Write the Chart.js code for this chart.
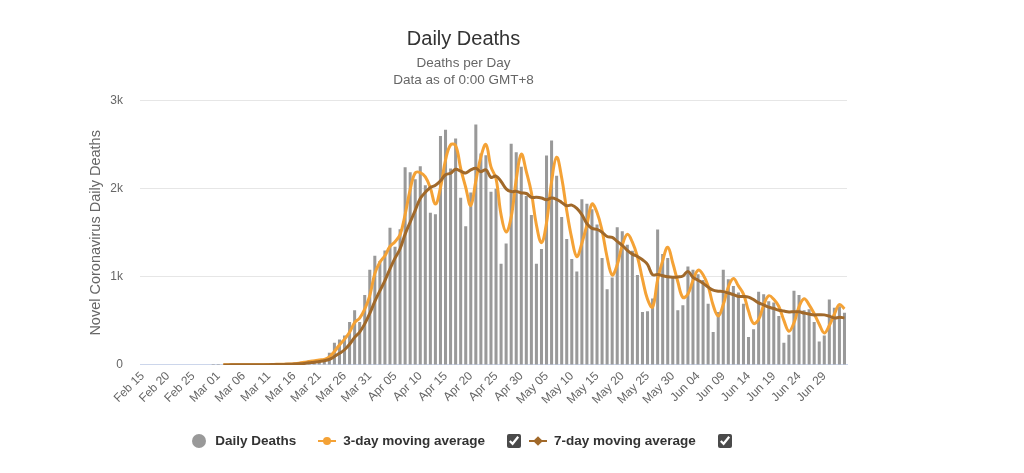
<!DOCTYPE html>
<html>
<head>
<meta charset="utf-8">
<title>Daily Deaths</title>
<script src="https://cdn.jsdelivr.net/npm/chart.js@4.4.1/dist/chart.umd.min.js"></script>
<style>
    html, body { margin: 0; padding: 0; background: #fff; }
    #wrap   { position: relative; width: 930px; height: 473px; }
    #legend {
        position: absolute; left: -10px; top: 433px; width: 930px;
        display: flex; justify-content: center; align-items: center;
        font: bold 13.5px 'Liberation Sans', Arial, sans-serif; color: #333;
    }
    .lg-item  { display: flex; align-items: center; margin-right: 22px; }
    .lg-item:last-child { margin-right: 0; }
    .lg-dot   { width: 14px; height: 14px; border-radius: 50%; margin-right: 9px; }
    .lg-line  { position: relative; width: 18px; height: 2px; margin-right: 7px; }
    .lg-line i { position: absolute; left: 5px; top: -3px; width: 8px; height: 8px; border-radius: 50%; }
    .lg-line i.diamond { border-radius: 0; transform: rotate(45deg) scale(0.85); }
    .lg-check { width: 14px; height: 14px; margin: 0 -14px 0 22px; accent-color: #4a4a4a; }
</style>
</head>
<body>
<div id="wrap">
    <canvas id="deathsChart"></canvas>
    <div id="legend"></div>
</div>
<script>
/* ── Data ────────────────────────────────────────────── */
const DAYS = [
    'Feb 15','Feb 16','Feb 17','Feb 18','Feb 19','Feb 20','Feb 21','Feb 22','Feb 23','Feb 24','Feb 25','Feb 26','Feb 27','Feb 28','Feb 29',
    'Mar 01','Mar 02','Mar 03','Mar 04','Mar 05','Mar 06','Mar 07','Mar 08','Mar 09','Mar 10','Mar 11','Mar 12','Mar 13','Mar 14','Mar 15','Mar 16',
    'Mar 17','Mar 18','Mar 19','Mar 20','Mar 21','Mar 22','Mar 23','Mar 24','Mar 25','Mar 26','Mar 27','Mar 28','Mar 29','Mar 30','Mar 31',
    'Apr 01','Apr 02','Apr 03','Apr 04','Apr 05','Apr 06','Apr 07','Apr 08','Apr 09','Apr 10','Apr 11','Apr 12','Apr 13','Apr 14','Apr 15',
    'Apr 16','Apr 17','Apr 18','Apr 19','Apr 20','Apr 21','Apr 22','Apr 23','Apr 24','Apr 25','Apr 26','Apr 27','Apr 28','Apr 29','Apr 30',
    'May 01','May 02','May 03','May 04','May 05','May 06','May 07','May 08','May 09','May 10','May 11','May 12','May 13','May 14','May 15','May 16',
    'May 17','May 18','May 19','May 20','May 21','May 22','May 23','May 24','May 25','May 26','May 27','May 28','May 29','May 30','May 31',
    'Jun 01','Jun 02','Jun 03','Jun 04','Jun 05','Jun 06','Jun 07','Jun 08','Jun 09','Jun 10','Jun 11','Jun 12','Jun 13','Jun 14','Jun 15',
    'Jun 16','Jun 17','Jun 18','Jun 19','Jun 20','Jun 21','Jun 22','Jun 23','Jun 24','Jun 25','Jun 26','Jun 27','Jun 28','Jun 29','Jun 30',
    'Jul 01','Jul 02','Jul 03'
];

const DAILY_DEATHS = [
    0, 0, 0, 0, 0, 0, 0, 0, 0, 0, 0, 0, 0, 0, 1,
    1, 5, 1, 4, 1, 2, 3, 4, 4, 5, 8, 7, 10, 11, 12, 23,
    28, 38, 55, 53, 67, 70, 140, 252, 290, 336, 489, 622, 489, 794, 1080,
    1240, 1180, 1300, 1557, 1343, 1540, 2245, 2187, 2110, 2256, 2042, 1729, 1710, 2600, 2670,
    2230, 2570, 1900, 1576, 1958, 2729, 2400, 2380, 1966, 2000, 1149, 1378, 2511, 2416, 2252,
    1920, 1702, 1149, 1317, 2378, 2550, 2149, 1679, 1431, 1202, 1061, 1882, 1832, 1767, 1595, 1214,
    859, 992, 1565, 1519, 1366, 1298, 1023, 603, 611, 756, 1538, 1260, 1214, 1000, 622,
    679, 1118, 1080, 1030, 966, 695, 374, 603, 1080, 973, 897, 824, 695, 317, 405,
    832, 802, 725, 710, 557, 252, 344, 844, 794, 622, 634, 489, 267, 336, 744,
    649, 668, 592
];

const AVG_3DAY = [
    null, null, null, null, null, null, null, null, null, null, null, null, null, null, null,
    null, 2, 2, 3, 2, 2, 2, 3, 4, 4, 6, 7, 8, 9, 11, 15,
    21, 30, 40, 49, 58, 63, 92, 154, 227, 293, 372, 482, 533, 635, 788,
    1038, 1167, 1240, 1346, 1400, 1480, 1709, 1991, 2181, 2184, 2136, 2009, 1827, 2013, 2327,
    2500, 2490, 2233, 2015, 1811, 2088, 2362, 2503, 2249, 2115, 1705, 1509, 1679, 2102, 2393,
    2196, 1958, 1590, 1389, 1615, 2082, 2359, 2126, 1753, 1437, 1231, 1382, 1592, 1827, 1731, 1525,
    1223, 1022, 1139, 1359, 1483, 1394, 1229, 975, 746, 657, 968, 1185, 1337, 1158, 945,
    767, 806, 959, 1076, 1025, 897, 678, 557, 686, 885, 983, 898, 805, 612, 472,
    518, 680, 786, 746, 664, 506, 384, 480, 661, 753, 683, 582, 463, 364, 449,
    576, 687, 636
];

const AVG_7DAY = [
    null, null, null, null, null, null, null, null, null, null, null, null, null, null, null,
    null, 1, 1, 2, 2, 2, 2, 3, 3, 3, 4, 5, 6, 7, 8, 11,
    14, 18, 25, 31, 39, 48, 64, 96, 132, 173, 235, 314, 374, 467, 586,
    721, 842, 958, 1091, 1213, 1320, 1486, 1622, 1755, 1891, 1960, 2016, 2040, 2091, 2160,
    2177, 2222, 2201, 2179, 2215, 2233, 2195, 2216, 2130, 2144, 2083, 2000, 1969, 1971, 1953,
    1947, 1904, 1904, 1895, 1876, 1895, 1881, 1846, 1808, 1815, 1779, 1708, 1605, 1551, 1539, 1508,
    1459, 1449, 1403, 1359, 1301, 1259, 1232, 1195, 1141, 1025, 1028, 1013, 1001, 997, 1000,
    1010, 1062, 996, 963, 928, 884, 849, 838, 833, 817, 798, 778, 778, 770, 742,
    706, 682, 657, 641, 621, 612, 603, 605, 604, 589, 578, 568, 571, 569, 555,
    534, 541, 535
];

const Y_TICKS       = [0, 1000, 2000, 3000];
const Y_TICK_LABELS = ['0', '1k', '2k', '3k'];

/* ── Style ───────────────────────────────────────────── */
const FONT   = "'Liberation Sans', Arial, Helvetica, sans-serif";
const GRAY   = '#999999';
const ORANGE = '#F4A236';
const BROWN  = '#A1692A';

Chart.defaults.font.family = FONT;
Chart.defaults.color       = '#666666';

const datasets = [
    {
        type: 'bar',
        label: 'Daily Deaths',
        data: DAILY_DEATHS,
        backgroundColor: GRAY,
        barPercentage: 0.6,
        categoryPercentage: 1.0,
        order: 3,
        legendSymbol: 'dot',
    },
    {
        type: 'line',
        label: '3-day moving average',
        data: AVG_3DAY,
        borderColor: ORANGE,
        backgroundColor: ORANGE,
        borderWidth: 3,
        pointRadius: 0,
        tension: 0.4,
        order: 2,
        legendSymbol: 'circle',
    },
    {
        type: 'line',
        label: '7-day moving average',
        data: AVG_7DAY,
        borderColor: BROWN,
        backgroundColor: BROWN,
        borderWidth: 3,
        pointRadius: 0,
        tension: 0.4,
        order: 1,
        legendSymbol: 'diamond',
    },
];

new Chart(document.getElementById('deathsChart'), {
    data: { labels: DAYS, datasets },
    options: {
        responsive: true,
        maintainAspectRatio: false,
        animation: false,
        layout: { padding: { left: 80, right: 83, top: 0, bottom: 62 } },
        plugins: {
            legend: { display: false },
            tooltip: { enabled: false },
            title: {
                display: true,
                text: 'Daily Deaths',
                color: '#333333',
                font: { size: 20, weight: 'normal' },
                padding: { top: 27, bottom: 2 },
            },
            subtitle: {
                display: true,
                text: ['Deaths per Day', 'Data as of 0:00 GMT+8'],
                color: '#666666',
                font: { size: 13.5, lineHeight: 1.25 },
                padding: { top: 2, bottom: 12 },
            },
        },
        scales: {
            x: {
                grid: { display: false, drawTicks: false },
                border: { display: true, color: '#ccd6eb', width: 1 },
                ticks: {
                    autoSkip: false,
                    minRotation: 45,
                    maxRotation: 45,
                    padding: 4,
                    color: '#666666',
                    font: { size: 12 },
                    callback: (v, i) => (i % 5 === 0 ? DAYS[i] : ''),
                },
            },
            y: {
                min: 0,
                max: 3000,
                afterBuildTicks: axis => { axis.ticks = Y_TICKS.map(v => ({ value: v })); },
                afterFit: axis => { axis.width = 60; },
                grid: { color: '#e6e6e6', drawTicks: false },
                border: { display: false },
                ticks: {
                    padding: 17,
                    color: '#666666',
                    font: { size: 12 },
                    callback: v => Y_TICK_LABELS[Y_TICKS.indexOf(v)],
                },
                title: {
                    display: true,
                    text: 'Novel Coronavirus Daily Deaths',
                    color: '#666666',
                    font: { size: 14.5 },
                    padding: { top: 7, bottom: 0 },
                },
            },
        },
    },
});

/* ── HTML legend (with the checkbox marks) ───────────── */
const legend = document.getElementById('legend');
datasets.forEach(ds => {
    const item = document.createElement('div');
    item.className = 'lg-item';
    let sym;
    if (ds.legendSymbol === 'dot') {
        sym = `<span class="lg-dot" style="background:${ds.backgroundColor}"></span>`;
    } else {
        const cls = ds.legendSymbol === 'diamond' ? 'diamond' : '';
        sym = `<span class="lg-line" style="background:${ds.borderColor}"><i class="${cls}" style="background:${ds.borderColor}"></i></span>`;
    }
    const box = ds.type === 'line' ? '<input type="checkbox" class="lg-check" checked>' : '';
    item.innerHTML = `${sym}<span>${ds.label}</span>${box}`;
    legend.appendChild(item);
});
</script>
</body>
</html>
